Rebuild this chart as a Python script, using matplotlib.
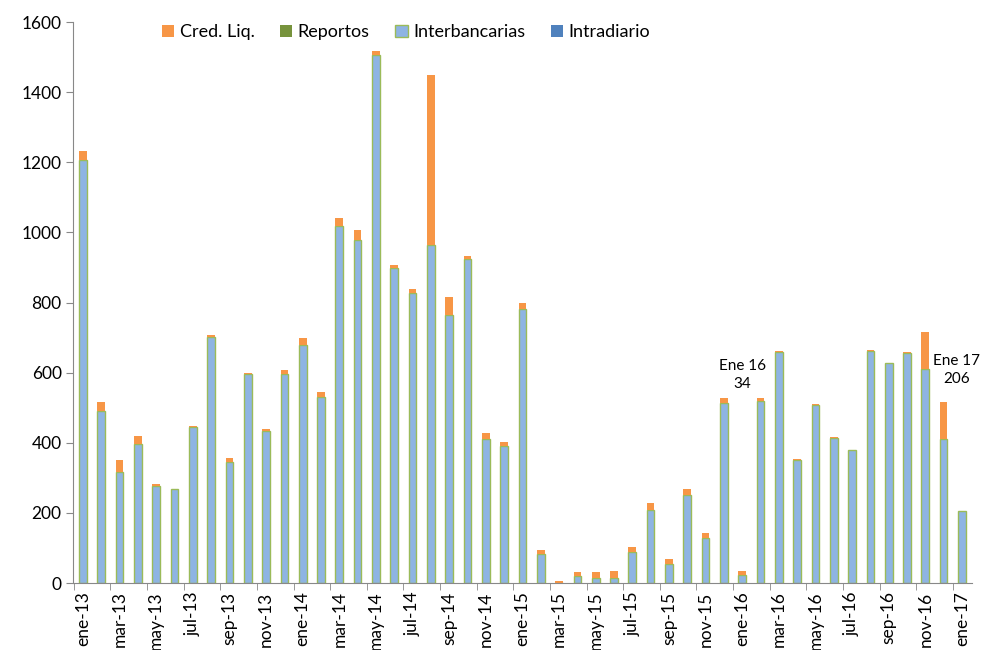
import numpy as np
import matplotlib
matplotlib.use('Agg')
import matplotlib.pyplot as plt
from matplotlib.patches import Patch

plt.rcParams['font.family'] = ['Lato', 'DejaVu Sans']

years = ['13', '14', '15', '16', '17']
month_names = ['ene', 'feb', 'mar', 'abr', 'may', 'jun',
               'jul', 'ago', 'sep', 'oct', 'nov', 'dic']
months = [m + '-' + y for y in years for m in month_names][:49]

# totals
interbancarias = [1207, 490, 318, 397, 276, 268, 444, 702, 346, 597, 435, 596,
                  680, 532, 1017, 978, 1505, 898, 827, 965, 765, 925, 410, 391,
                  783, 83, 0, 20, 14, 15, 88, 208, 55, 250, 128, 513,
                  22, 520, 660, 350, 508, 413, 380, 661, 627, 657, 611, 412,
                  206]
total = [1233, 515, 350, 420, 282, 268, 447, 708, 358, 598, 438, 607,
         700, 545, 1042, 1006, 1518, 906, 838, 1450, 815, 933, 427, 403,
         798, 94, 5, 32, 32, 35, 103, 228, 68, 268, 143, 528,
         34, 527, 662, 354, 512, 416, 380, 665, 628, 658, 716, 516,
         206]
reportos = [0] * len(months)
intradiario = [0] * len(months)
cred_liq = [t - i for t, i in zip(total, interbancarias)]

x = np.arange(len(months))
fig = plt.figure(figsize=(9.82, 6.5), dpi=100)
ax = fig.add_axes([0.0748, 0.103, 0.915, 0.863])

w = 0.42
ax.bar(x, intradiario, w, color='#4F81BD', linewidth=0)
ax.bar(x, interbancarias, w, bottom=intradiario, color='#8EB4E3',
       edgecolor='#9BBB59', linewidth=1.0)
base = np.array(intradiario) + np.array(interbancarias)
ax.bar(x, reportos, w, bottom=base, color='#77933C', linewidth=0)
base = base + np.array(reportos)
ax.bar(x, cred_liq, w, bottom=base, color='#F79646', linewidth=0)

ax.set_xlim(-0.52, 48.55)
ax.set_ylim(0, 1600)
ax.set_yticks(range(0, 1601, 200))
ax.tick_params(axis='y', labelsize=12.5, length=5, color='#888888')

ax.set_xticks(x[::2])
ax.set_xticklabels(months[::2], rotation=90, fontsize=12.5)
ax.set_xticks(np.arange(-0.5, 49, 2), minor=True)
ax.tick_params(axis='x', which='major', length=0, pad=6)
ax.tick_params(axis='x', which='minor', length=5, color='#888888')

for s in ['top', 'right']:
    ax.spines[s].set_visible(False)
for s in ['left', 'bottom']:
    ax.spines[s].set_color('#888888')

ax.text(36, 593, 'Ene 16\n34', ha='center', va='center', fontsize=11,
        linespacing=1.4)
ax.text(47.7, 607, 'Ene 17\n206', ha='center', va='center', fontsize=11,
        linespacing=1.4)

handles = [Patch(facecolor='#F79646', label='Cred. Liq.'),
           Patch(facecolor='#77933C', label='Reportos'),
           Patch(facecolor='#8EB4E3', edgecolor='#9BBB59', label='Interbancarias'),
           Patch(facecolor='#4F81BD', label='Intradiario')]
ax.legend(handles=handles, ncol=4, frameon=False, loc='center left',
          bbox_to_anchor=(0.08, 0.982), fontsize=13, handlelength=0.7,
          handleheight=0.7, handletextpad=0.3, columnspacing=1.4)

fig.savefig('out.png', dpi=100)
